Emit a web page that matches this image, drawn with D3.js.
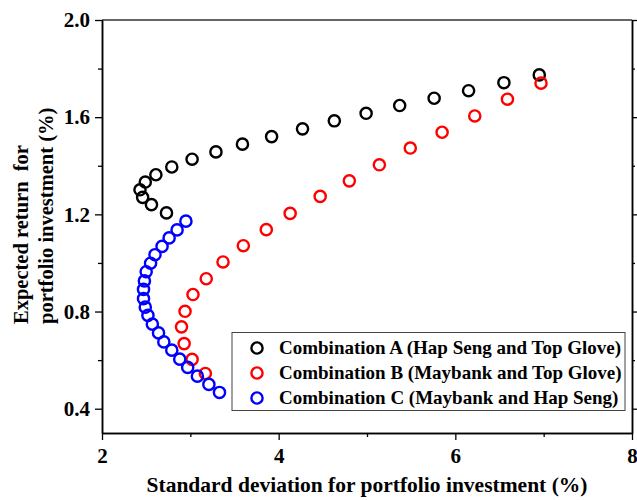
<!DOCTYPE html>
<html>
<head>
<meta charset="utf-8">
<script src="https://cdn.jsdelivr.net/npm/d3@7"></script>
<style>
  body { margin: 0; background: #fff; }
  svg text { font-family: "Liberation Serif", "Times New Roman", Times, serif; font-weight: 700; }
</style>
</head>
<body>
<div id="chart"></div>
<script>
// DATA (std dev %, expected return %)
let SERIES_NAMES = ["Combination A (Hap Seng and Top Glove)", "Combination B (Maybank and Top Glove)", "Combination C (Maybank and Hap Seng)"]
let SERIES_COLORS = ["#000000", "#ff0000", "#0000ff"]

let comboA_sd = [2.73, 2.56, 2.46, 2.43, 2.49, 2.61, 2.79, 3.02, 3.29, 3.59, 3.92, 4.27, 4.63, 4.99, 5.37, 5.76, 6.15, 6.55, 6.95]
let comboA_ret = [1.206, 1.240, 1.270, 1.301, 1.333, 1.363, 1.395, 1.427, 1.457, 1.489, 1.520, 1.552, 1.585, 1.616, 1.648, 1.678, 1.709, 1.742, 1.774]

let comboB_sd = [3.17, 3.02, 2.93, 2.90, 2.94, 3.03, 3.18, 3.37, 3.60, 3.86, 4.13, 4.47, 4.80, 5.14, 5.49, 5.85, 6.22, 6.59, 6.97]
let comboB_ret = [0.545, 0.603, 0.668, 0.737, 0.801, 0.870, 0.935, 1.004, 1.071, 1.137, 1.204, 1.274, 1.338, 1.404, 1.473, 1.538, 1.605, 1.674, 1.740]

let comboC_sd = [2.95, 2.85, 2.76, 2.68, 2.60, 2.55, 2.50, 2.48, 2.47, 2.47, 2.49, 2.52, 2.57, 2.64, 2.70, 2.79, 2.88, 2.97, 3.08, 3.21, 3.33]
let comboC_ret = [1.172, 1.136, 1.103, 1.068, 1.034, 0.999, 0.964, 0.926, 0.891, 0.853, 0.818, 0.784, 0.748, 0.712, 0.675, 0.641, 0.604, 0.570, 0.534, 0.500, 0.467]

let X_TICKS = [2, 4, 6, 8]
let X_MINOR = [3, 5, 7]
let Y_TICKS = [0.4, 0.8, 1.2, 1.6, 2.0]
let Y_MINOR = [0.6, 1.0, 1.4, 1.8]


// MAIN SCRIPT
let width = 637, height = 500
let plotLeft = 102, plotRight = 632, plotTop = 20, plotBottom = 433
let FONT = "'Liberation Serif', 'Times New Roman', serif"

let svg = d3.select("#chart")
    .append("svg")
    .attr("width", width)
    .attr("height", height)

let x = d3.scaleLinear().domain([2, 8]).range([plotLeft, plotRight])
let y = d3.scaleLinear().domain([0.3, 2.0]).range([plotBottom, plotTop])

let seriesData = [
    { name: SERIES_NAMES[0], color: SERIES_COLORS[0], sd: comboA_sd, ret: comboA_ret },
    { name: SERIES_NAMES[1], color: SERIES_COLORS[1], sd: comboB_sd, ret: comboB_ret },
    { name: SERIES_NAMES[2], color: SERIES_COLORS[2], sd: comboC_sd, ret: comboC_ret }
].map(function (s) {
    return { name: s.name, color: s.color, values: s.sd.map(function (v, i) { return { sd: v, ret: s.ret[i] } }) }
})

// frame (top line)
svg.append("line")
    .attr("x1", plotLeft).attr("x2", plotRight).attr("y1", plotTop).attr("y2", plotTop)
    .attr("stroke", "#333").attr("stroke-width", 1.5)

// axes
function styleAxis(g) {
    g.selectAll("path").attr("stroke", "#000").attr("stroke-width", 1.5)
    g.selectAll("line").attr("stroke", "#000").attr("stroke-width", 1.3)
    g.attr("font-family", null).attr("font-size", null)
    g.selectAll("text").attr("fill", "#000")
        .style("font-size", "21px")
        .style("font-family", FONT)
        .style("font-weight", "700")
}

let xAxis = svg.append("g")
    .attr("transform", "translate(0," + plotBottom + ")")
    .call(d3.axisBottom(x).tickValues(X_TICKS).tickFormat(d3.format("d")).tickSize(7).tickPadding(8).tickSizeOuter(0))
styleAxis(xAxis)
let xMinor = svg.append("g")
    .attr("transform", "translate(0," + plotBottom + ")")
    .call(d3.axisBottom(x).tickValues(X_MINOR).tickFormat("").tickSize(4).tickSizeOuter(0))
styleAxis(xMinor)

let yAxis = svg.append("g")
    .attr("transform", "translate(" + plotLeft + ",0)")
    .call(d3.axisLeft(y).tickValues(Y_TICKS).tickFormat(d3.format(".1f")).tickSize(7).tickPadding(5).tickSizeOuter(0))
styleAxis(yAxis)
let yMinor = svg.append("g")
    .attr("transform", "translate(" + plotLeft + ",0)")
    .call(d3.axisLeft(y).tickValues(Y_MINOR).tickFormat("").tickSize(4).tickSizeOuter(0))
styleAxis(yMinor)

let yRight = svg.append("g")
    .attr("transform", "translate(" + plotRight + ",0)")
    .call(d3.axisRight(y).tickValues(Y_TICKS).tickFormat("").tickSize(5).tickSizeOuter(0))
styleAxis(yRight)
let yRightMinor = svg.append("g")
    .attr("transform", "translate(" + plotRight + ",0)")
    .call(d3.axisRight(y).tickValues(Y_MINOR).tickFormat("").tickSize(3).tickSizeOuter(0))
styleAxis(yRightMinor)

// axis titles
svg.append("text")
    .attr("x", (plotLeft + plotRight) / 2)
    .attr("y", 492)
    .attr("text-anchor", "middle")
    .style("font-size", "21.5px")
    .text("Standard deviation for portfolio investment (%)")

let yTitle = svg.append("text")
    .attr("transform", "translate(28,324) rotate(-90)")
    .attr("text-anchor", "start")
    .style("font-size", "20.5px")
    .style("white-space", "pre")
yTitle.append("tspan").attr("x", 0).attr("y", 0).text("Expected return  for")
yTitle.append("tspan").attr("x", 0).attr("y", 25).text("portfolio investment (%)")

// points
svg.selectAll("myDots")
    .data(seriesData)
    .enter()
    .append("g")
    .attr("stroke", function (d) { return d.color })
    .selectAll("myPoints")
    .data(function (d) { return d.values })
    .enter()
    .append("circle")
    .attr("cx", function (d) { return x(d.sd) })
    .attr("cy", function (d) { return y(d.ret) })
    .attr("r", 5.6)
    .attr("fill", "none")
    .attr("stroke-width", 2.4)

// legend
let legend = svg.append("g")
legend.append("rect")
    .attr("x", 232).attr("y", 332.5)
    .attr("width", 393).attr("height", 78)
    .attr("fill", "#fff")
    .attr("stroke", "#444")
    .attr("stroke-width", 1)

let legendRows = legend.selectAll("myLegend")
    .data(seriesData)
    .enter()
    .append("g")
    .attr("transform", function (d, i) { return "translate(257," + (348 + i * 25) + ")" })
legendRows.append("circle")
    .attr("r", 5.6)
    .attr("fill", "none")
    .attr("stroke", function (d) { return d.color })
    .attr("stroke-width", 2.4)
legendRows.append("text")
    .attr("x", 22)
    .attr("y", 6)
    .style("font-size", "19px")
    .text(function (d) { return d.name })
</script>
</body>
</html>
